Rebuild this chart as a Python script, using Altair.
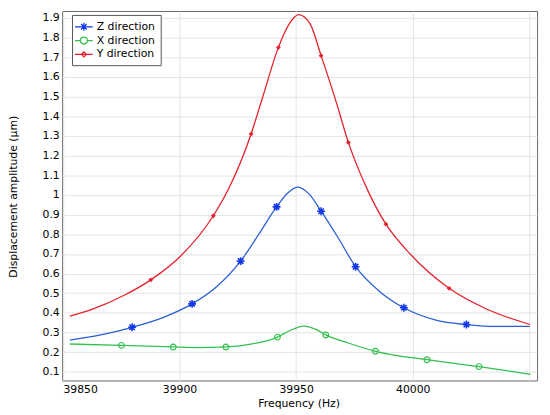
import altair as alt
import pandas as pd

series_names = ["Z direction", "X direction", "Y direction"]
line_colors = ["#2b5fd6", "#34c04f", "#e3232c"]
marker_colors = ["#1238e8", "#34c04f", "#e3232c"]

# Curves (frequency in Hz, amplitude in um)
z_freq = [39853.0, 39865.2, 39879.7, 39893.4, 39905.4, 39915.9, 39926.2, 39934.0, 39941.6,
          39946.2, 39950.7, 39955.5, 39960.7, 39968.0, 39975.5, 39986.4, 39996.2, 40010.3,
          40023.0, 40035.7, 40050.2]
z_amp = [0.262, 0.286, 0.327, 0.379, 0.446, 0.533, 0.663, 0.800, 0.939,
         1.007, 1.039, 1.005, 0.917, 0.782, 0.635, 0.503, 0.426, 0.362,
         0.341, 0.331, 0.332]

x_freq = [39853.0, 39875.1, 39897.3, 39907.5, 39919.9, 39930.0, 39942.0, 39946.9, 39953.3,
          39958.2, 39962.7, 39972.3, 39984.0, 40006.1, 40028.4, 40050.5]
x_amp = [0.242, 0.235, 0.227, 0.224, 0.227, 0.240, 0.277, 0.308, 0.333,
         0.318, 0.288, 0.247, 0.205, 0.162, 0.127, 0.088]

y_freq = [39853.0, 39862.4, 39876.5, 39887.7, 39900.4, 39914.5, 39921.0, 39930.7, 39935.7,
          39942.4, 39946.9, 39951.1, 39956.1, 39960.7, 39966.7, 39972.4, 39980.7, 39988.5,
          39999.1, 40015.6, 40031.4, 40050.2]
y_amp = [0.384, 0.4175, 0.491, 0.568, 0.688, 0.894, 1.030, 1.310, 1.499,
         1.750, 1.867, 1.917, 1.867, 1.708, 1.491, 1.267, 1.023, 0.851,
         0.697, 0.525, 0.421, 0.341]

# Marker positions
z_mk_freq = [39879.7, 39905.4, 39926.2, 39941.6, 39960.7, 39975.5, 39996.2, 40023.0]
z_mk_amp = [0.327, 0.446, 0.663, 0.939, 0.917, 0.635, 0.426, 0.341]
x_mk_freq = [39875.1, 39897.3, 39919.9, 39942.0, 39962.7, 39984.0, 40006.1, 40028.4]
x_mk_amp = [0.235, 0.227, 0.227, 0.277, 0.288, 0.205, 0.162, 0.127]
y_mk_freq = [39887.7, 39914.5, 39930.7, 39942.4, 39960.7, 39972.4, 39988.5, 40015.6]
y_mk_amp = [0.568, 0.894, 1.310, 1.750, 1.708, 1.267, 0.851, 0.525]

x_ticks = [39850, 39900, 39950, 40000, 40050]
y_ticks = [0.1, 0.2, 0.3, 0.4, 0.5, 0.6, 0.7, 0.8, 0.9, 1.0,
           1.1, 1.2, 1.3, 1.4, 1.5, 1.6, 1.7, 1.8, 1.9]

FONT = "DejaVu Sans"

asterisk = "M-1,0L1,0M0,-1L0,1M-0.7,-0.7L0.7,0.7M-0.7,0.7L0.7,-0.7"
leg_z = "M-1.5,0H1.5M0,-0.67V0.67M-0.47,-0.47L0.47,0.47M-0.47,0.47L0.47,-0.47"
leg_x = "M-1.5,0H-0.58A0.58,0.58 0 1,1 0.58,0A0.58,0.58 0 1,1 -0.58,0M0.58,0H1.5"
leg_y = "M-1.5,0H1.5M0,-0.42L0.42,0L0,0.42L-0.42,0Z"

xscale = alt.Scale(domain=[39849.7, 40053.3], nice=False, zero=False)
yscale = alt.Scale(domain=[0.0565, 1.935], nice=False, zero=False)

xenc = alt.X("f:Q", scale=xscale, title="Frequency (Hz)",
             axis=alt.Axis(values=x_ticks, format="d",
                           labelExpr="datum.value == 40050 ? '' : format(datum.value, 'd')",
                           titleX=240, titlePadding=3))
yenc = alt.Y("v:Q", scale=yscale, title="Displacement amplitude (\u00b5m)",
             axis=alt.Axis(values=y_ticks, format=".1~f", titleX=-49, titleY=188,
                           titleAlign="center", titleBaseline="middle", titleAngle=-90))

curves = [(z_freq, z_amp), (x_freq, x_amp), (y_freq, y_amp)]
marks = [(z_mk_freq, z_mk_amp), (x_mk_freq, x_mk_amp), (y_mk_freq, y_mk_amp)]

layers = []
for i, (fr, am) in enumerate(curves):
    df = pd.DataFrame({"f": fr, "v": am})
    layers.append(
        alt.Chart(df).mark_line(color=line_colors[i], strokeWidth=1.3, interpolate="monotone")
        .encode(x=xenc, y=yenc)
    )

mk_styles = [
    dict(shape=asterisk, filled=False, size=64, strokeWidth=1.6),
    dict(shape="circle", filled=False, size=34, strokeWidth=1.2),
    dict(shape="diamond", filled=True, size=24, strokeWidth=1.0),
]
for i, (fr, am) in enumerate(marks):
    df = pd.DataFrame({"f": fr, "v": am})
    layers.append(
        alt.Chart(df).mark_point(color=marker_colors[i], opacity=1, **mk_styles[i])
        .encode(x=xenc, y=yenc)
    )

leg_df = pd.DataFrame({"series": series_names, "f": [39900.0] * 3, "v": [1.0] * 3})
legend = alt.Legend(title=None, orient="none", legendX=10, legendY=4, padding=5,
                    strokeColor="#555555", fillColor="white", symbolSize=144,
                    symbolStrokeWidth=1.3, symbolFillColor="transparent",
                    rowPadding=0, labelFont=FONT, labelFontSize=11,
                    labelColor="black", labelOffset=6)
layers.append(
    alt.Chart(leg_df).mark_point(filled=False, opacity=1)
    .transform_filter("datum.v > 100")
    .encode(
        x=xenc, y=yenc,
        color=alt.Color("series:N", scale=alt.Scale(domain=series_names, range=marker_colors),
                        legend=legend),
        shape=alt.Shape("series:N", scale=alt.Scale(domain=series_names, range=[leg_z, leg_x, leg_y]),
                        legend=legend),
    )
)

chart = (
    alt.layer(*layers)
    .properties(width=482, height=375,
                autosize=alt.AutoSizeParams(type="none"),
                padding={"left": 55, "top": 0, "right": 5, "bottom": 32})
    .configure_view(stroke="#666666", strokeWidth=1)
    .configure_axis(labelFont=FONT, titleFont=FONT, labelFontSize=11, titleFontSize=11,
                    labelColor="black", titleColor="black", titleFontWeight="normal",
                    gridColor="#e4e4e4", gridWidth=1, domain=False, tickSize=0,
                    labelPadding=3)
)

chart.save("out.html", embed_options={"renderer": "svg", "actions": False})
